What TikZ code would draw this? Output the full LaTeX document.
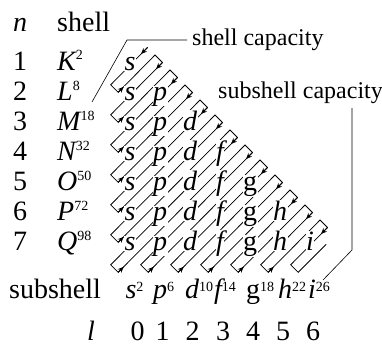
\documentclass[tikz,border=0pt]{standalone}
\usepackage{fontspec}
\setmainfont{Liberation Serif}
\usetikzlibrary{arrows.meta,calc}
\newcommand{\supnum}[2][10pt]{\raisebox{#1}{\upshape\fontsize{14}{14}\selectfont #2}}
\newcommand{\orbletter}[1]{\ifcase#1 s\or p\or d\or f\or \upshape g\or h\or i\fi}
\begin{document}
\begin{tikzpicture}[x=1pt,y=-1pt,
  txt/.style={font=\fontsize{28}{28}\selectfont, inner sep=0pt, anchor=base},
  orb/.style={font=\fontsize{28}{28}\selectfont\itshape, fill=white, inner sep=0.5pt, anchor=base},
  ann/.style={font=\fontsize{24}{24}\selectfont, inner sep=0pt},
  snake/.style={line width=0.75pt, line join=miter},
  arr/.style={-{Stealth[length=6pt,width=5pt]}, line width=0.75pt},
  lead/.style={line width=0.6pt}]
\useasboundingbox (0,0) rectangle (382,345);
% snake geometry
\foreach \k in {1,...,13}{
  \pgfmathsetmacro\sx{147.5+15*(\k-1)}
  \pgfmathsetmacro\sy{47.5+15*(\k-1)}
  \coordinate (S\k) at (\sx,\sy);
  \pgfmathsetmacro\bx{\k<8 ? 110.7 : 30*\k-99.3}
  \pgfmathsetmacro\by{\k<8 ? 54.8+30*\k : 264.8}
  \coordinate (B\k) at (\bx,\by);
  \coordinate (C\k) at (\bx+7.5,\by+7.5);
  \coordinate (R\k) at (140+15*\k,40+15*\k);
}
\coordinate (E) at ($(C13)+(28,-28)$);
\foreach \k in {1,...,12}{
  \pgfmathtruncatemacro\kn{\k+1}
  \draw[snake] (S\k) -- (B\k) -- (C\k) -- (R\k) -- (S\kn);
  \draw[arr] (C\k) -- ++(5.5,-5.5);
}
\draw[snake] (S13) -- (B13) -- (C13) -- (E);
\foreach \k in {1,...,13} \draw[arr] (S\k) -- ++(-6.5,6.5);
% orbital letters
\foreach \n in {1,...,7}{
  \pgfmathtruncatemacro\lm{\n-1}
  \foreach \l in {0,...,\lm}{
    \node[orb] (o\n\l) at (130+30*\l,70+30*\n-30) {\orbletter{\l}};
  }
}
% header and rows
\node[txt] (nh) at (20,32) {\itshape n};
\node[txt, anchor=base west] (sh) at (57,32) {shell};
\foreach \n/\L/\c in {1/K/2,2/L/8,3/M/18,4/N/32,5/O/50,6/P/72,7/Q/98}{
  \node[txt] (d\n) at (20,70+30*\n-30) {\n};
  \node[txt, anchor=base west] (sl\n) at (57,70+30*\n-30) {\itshape \L\supnum{\c}};
}
% bottom rows
\node[txt, anchor=base west] (sub) at (9,298) {subshell};
\node[txt] (lh) at (91,340) {\itshape l};
\foreach \l/\c/\x/\d in {0/2/131/137.5,1/6/160/162.5,2/10/192/192.5,3/14/218/223,4/18/253/253,5/22/285/283,6/26/312/313}{
  \node[txt] (ss\l) at (\x,298) {\itshape\orbletter{\l}\rlap{\supnum[7pt]{\c}}};
  \node[txt] (ld\l) at (\d,340) {\l};
}
% annotations
\node[ann, anchor=west, inner xsep=5pt] (sc) at (187,40) {shell capacity};
\coordinate (sc1) at (127,40);
\coordinate (sc2) at (92,102);
\draw[lead] (sc.west) -- (sc1) -- (sc2);
\node[ann, anchor=base west] (ssc) at (218,98) {subshell capacity};
\coordinate (ssc1) at (352,108);
\coordinate (ssc2) at (352,250);
\coordinate (ssc3) at (323,280);
\draw[lead] (ssc1) -- (ssc2) -- (ssc3);
\end{tikzpicture}
\end{document}
